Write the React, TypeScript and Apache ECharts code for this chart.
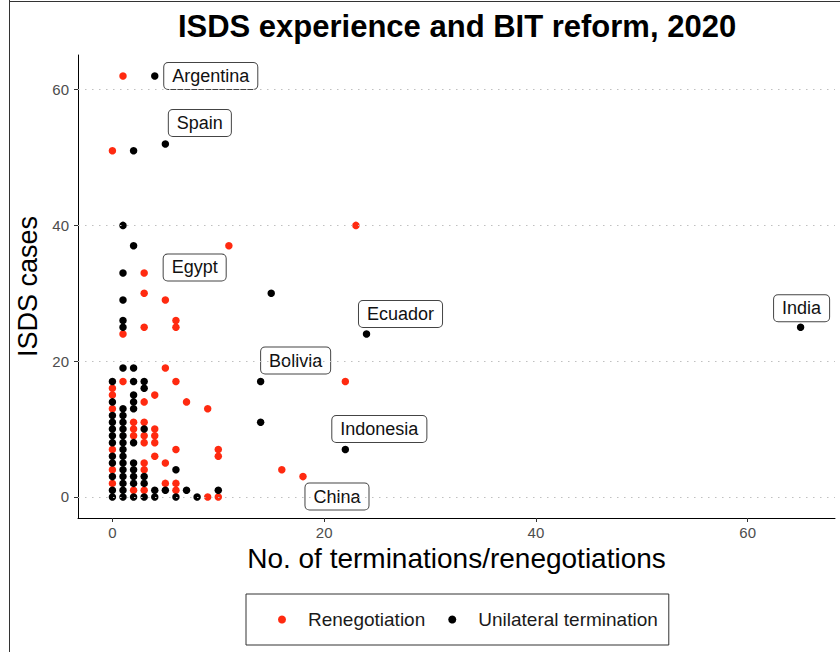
import React, { useEffect, useRef } from "react";
import * as echarts from "echarts";

// ---- data ----
const renegotiation: [number, number][] = [
  [1, 62], [0, 51], [23, 40], [11, 37], [3, 33], [3, 30], [5, 29], [6, 26], [6, 25], [3, 25],
  [1, 24], [5, 19], [1, 17], [6, 17], [22, 17], [0, 16], [0, 15], [4, 15], [3, 14], [7, 14],
  [0, 13], [9, 13], [2, 11], [3, 11], [2, 10], [4, 10], [2, 9], [3, 9], [4, 9], [3, 8],
  [4, 8], [6, 7], [10, 7], [0, 7], [4, 6], [10, 6], [3, 5], [5, 5], [3, 4], [0, 4],
  [16, 4], [18, 3], [0, 2], [5, 2], [6, 2], [2, 1], [3, 1], [6, 1], [9, 0], [10, 0],
];

const unilateral: [number, number][] = [
  [4, 62], [5, 52], [2, 51], [1, 40], [2, 37], [1, 33], [15, 30], [1, 29], [1, 26], [1, 25],
  [24, 24], [65, 25], [1, 19], [2, 19], [0, 17], [2, 17], [3, 17], [14, 17], [3, 16], [2, 15],
  [0, 14], [2, 14], [1, 13], [2, 13], [14, 11], [3, 10], [2, 8], [22, 7], [6, 4],
  [0, 12], [0, 11], [0, 10], [0, 9], [0, 8], [0, 6], [0, 5], [0, 3], [0, 1], [0, 0],
  [1, 12], [1, 11], [1, 10], [1, 9], [1, 8], [1, 7], [1, 6], [1, 5], [1, 4], [1, 3], [1, 2], [1, 1], [1, 0],
  [2, 5], [2, 4], [2, 3], [2, 2], [2, 0], [3, 3], [3, 2], [3, 0],
  [4, 1], [4, 0], [5, 1], [6, 0], [7, 1], [8, 0], [10, 1],
];

const countryNames = ["Argentina", "Spain", "Egypt", "Ecuador", "Bolivia", "Indonesia", "China", "India"];
const countryPoints: [number, number][] = [[4, 62], [5, 52], [3, 33], [24, 24], [14, 17], [22, 7], [18, 3], [65, 25]];
const countrySeries = [
  "Unilateral termination", "Unilateral termination", "Renegotiation", "Unilateral termination",
  "Unilateral termination", "Unilateral termination", "Renegotiation", "Unilateral termination",
];
const labelOffsets: [number, number][] = [[56, 0], [34.5, -21], [50.5, -5.5], [34, -20], [35, -21], [34, -20.5], [34, 20], [1, -19]];

const xTicks = [0, 20, 40, 60];
const yTicks = [0, 20, 40, 60];

const seriesNames = ["Renegotiation", "Unilateral termination"];
const seriesColors = ["#ff2a10", "#000000"];

const FONT = "'Liberation Sans', Arial, Helvetica, sans-serif";

function buildData(points: [number, number][], seriesName: string) {
  return points.map(([x, y]) => {
    const idx = countryPoints.findIndex(
      (p, i) => p[0] === x && p[1] === y && countrySeries[i] === seriesName
    );
    if (idx < 0) return [x, y];
    return {
      value: [x, y],
      name: countryNames[idx],
      label: { show: true, offset: labelOffsets[idx], formatter: countryNames[idx] },
    };
  });
}

const labelStyle = {
  show: false,
  position: "inside",
  fontFamily: FONT,
  fontSize: 18,
  lineHeight: 18,
  color: "#111",
  backgroundColor: "#ffffff",
  borderColor: "#444",
  borderWidth: 1,
  borderRadius: 4,
  padding: [4, 8],
};

export default function App() {
  const ref = useRef<HTMLDivElement>(null);

  useEffect(() => {
    if (!ref.current) return;
    const chart = echarts.init(ref.current, undefined, { renderer: "svg" });
    chart.setOption({
      animation: false,
      textStyle: { fontFamily: FONT },
      graphic: [
        { type: "line", shape: { x1: 9.5, y1: 0, x2: 9.5, y2: 652 }, style: { stroke: "#333", lineWidth: 1 }, silent: true },
        { type: "line", shape: { x1: 9, y1: 1.5, x2: 840, y2: 1.5 }, style: { stroke: "#333", lineWidth: 1 }, silent: true },
        {
          type: "text",
          x: 457,
          y: 11,
          style: {
            text: "ISDS experience and BIT reform, 2020",
            fontFamily: FONT,
            fontSize: 31,
            fontWeight: "bold",
            fill: "#000",
            textAlign: "center",
            textVerticalAlign: "top",
          },
        },
      ],
      grid: { left: 78, right: 5, top: 55, bottom: 134, containLabel: false },
      legend: {
        data: seriesNames,
        left: 246,
        top: 594,
        orient: "horizontal",
        icon: "circle",
        itemWidth: 8,
        itemHeight: 8,
        itemGap: 23,
        padding: [16, 11, 16, 32],
        borderColor: "#333",
        borderWidth: 1,
        textStyle: { fontFamily: FONT, fontSize: 19, color: "#1a1a1a", padding: [0, 0, 0, 17] },
      },
      xAxis: {
        type: "value",
        min: -3.25,
        max: 68.25,
        name: "No. of terminations/renegotiations",
        nameLocation: "middle",
        nameGap: 25,
        nameTextStyle: { fontFamily: FONT, fontSize: 28, color: "#000" },
        axisLine: { show: true, onZero: false, lineStyle: { color: "#000", width: 1 } },
        axisTick: { show: true, customValues: xTicks, length: 4, lineStyle: { color: "#333" } },
        axisLabel: { customValues: xTicks, fontFamily: FONT, fontSize: 15, color: "#4d4d4d", margin: 7 },
        splitLine: { show: false },
      },
      yAxis: {
        type: "value",
        min: -3.1,
        max: 65.1,
        name: "ISDS cases",
        nameLocation: "middle",
        nameGap: 32,
        nameTextStyle: { fontFamily: FONT, fontSize: 27, color: "#000" },
        axisLine: { show: true, onZero: false, lineStyle: { color: "#000", width: 1 } },
        axisTick: { show: true, customValues: yTicks, length: 4, lineStyle: { color: "#333" } },
        axisLabel: { customValues: yTicks, fontFamily: FONT, fontSize: 15, color: "#4d4d4d", margin: 9 },
        splitLine: { show: false },
      },
      series: [
        {
          name: "grid",
          type: "line",
          data: [],
          z: 1,
          silent: true,
          markLine: {
            silent: true,
            symbol: "none",
            label: { show: false },
            lineStyle: { color: "#c0c0c0", type: [1.5, 5.5], width: 1.2 },
            data: yTicks.map((v) => ({ yAxis: v })),
          },
        },
        {
          name: seriesNames[0],
          type: "scatter",
          z: 2,
          symbolSize: 7.5,
          itemStyle: { color: seriesColors[0], opacity: 1 },
          label: labelStyle,
          emphasis: { disabled: true },
          data: buildData(renegotiation, seriesNames[0]),
        },
        {
          name: seriesNames[1],
          type: "scatter",
          z: 3,
          symbolSize: 7.5,
          itemStyle: { color: seriesColors[1], opacity: 1 },
          label: labelStyle,
          emphasis: { disabled: true },
          data: buildData(unilateral, seriesNames[1]),
        },
      ],
    });
    return () => chart.dispose();
  }, []);

  return (
    <div
      ref={ref}
      style={{ position: "absolute", left: 0, top: 0, width: 840, height: 652, background: "#fff" }}
    />
  );
}
